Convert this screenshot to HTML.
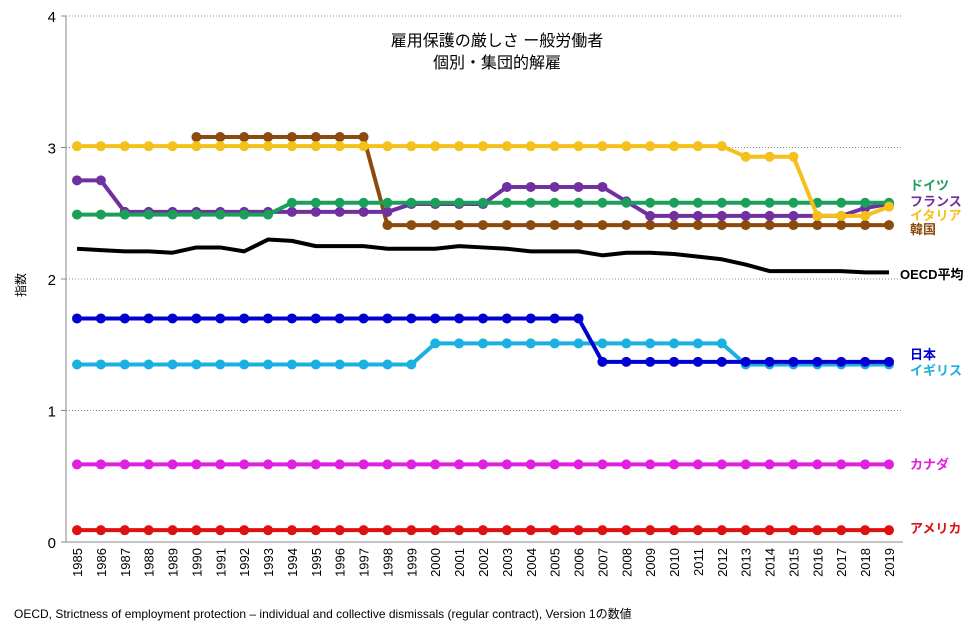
<!DOCTYPE html>
<html><head><meta charset="utf-8"><style>
body{margin:0;background:#fff;font-family:"Liberation Sans","Noto Sans CJK JP",sans-serif}
</style></head><body>
<svg id="chart" width="978" height="639" xmlns="http://www.w3.org/2000/svg" font-family="Liberation Sans, Noto Sans CJK JP, sans-serif"></svg>
<script>
const years=[];for(let y=1985;y<=2019;y++)years.push(y);
const yTicks=[0,1,2,3,4];
const italy=[3.01,3.01,3.01,3.01,3.01,3.01,3.01,3.01,3.01,3.01,3.01,3.01,3.01,3.01,3.01,3.01,3.01,3.01,3.01,3.01,3.01,3.01,3.01,3.01,3.01,3.01,3.01,3.01,2.93,2.93,2.93,2.48,2.48,2.48,2.55];
const france=[2.75,2.75,2.51,2.51,2.51,2.51,2.51,2.51,2.51,2.51,2.51,2.51,2.51,2.51,2.57,2.57,2.57,2.57,2.70,2.70,2.70,2.70,2.70,2.59,2.48,2.48,2.48,2.48,2.48,2.48,2.48,2.48,2.48,2.54,2.57];
const germany=[2.49,2.49,2.49,2.49,2.49,2.49,2.49,2.49,2.49,2.58,2.58,2.58,2.58,2.58,2.58,2.58,2.58,2.58,2.58,2.58,2.58,2.58,2.58,2.58,2.58,2.58,2.58,2.58,2.58,2.58,2.58,2.58,2.58,2.58,2.58];
const korea=[null,null,null,null,null,3.08,3.08,3.08,3.08,3.08,3.08,3.08,3.08,2.41,2.41,2.41,2.41,2.41,2.41,2.41,2.41,2.41,2.41,2.41,2.41,2.41,2.41,2.41,2.41,2.41,2.41,2.41,2.41,2.41,2.41];
const oecd=[2.23,2.22,2.21,2.21,2.20,2.24,2.24,2.21,2.30,2.29,2.25,2.25,2.25,2.23,2.23,2.23,2.25,2.24,2.23,2.21,2.21,2.21,2.18,2.20,2.20,2.19,2.17,2.15,2.11,2.06,2.06,2.06,2.06,2.05,2.05];
const japan=[1.70,1.70,1.70,1.70,1.70,1.70,1.70,1.70,1.70,1.70,1.70,1.70,1.70,1.70,1.70,1.70,1.70,1.70,1.70,1.70,1.70,1.70,1.37,1.37,1.37,1.37,1.37,1.37,1.37,1.37,1.37,1.37,1.37,1.37,1.37];
const uk=[1.35,1.35,1.35,1.35,1.35,1.35,1.35,1.35,1.35,1.35,1.35,1.35,1.35,1.35,1.35,1.51,1.51,1.51,1.51,1.51,1.51,1.51,1.51,1.51,1.51,1.51,1.51,1.51,1.35,1.35,1.35,1.35,1.35,1.35,1.35];
const canada=years.map(()=>0.59);
const usa=years.map(()=>0.09);
const NS="http://www.w3.org/2000/svg";
const svg=document.getElementById('chart');
const X0=77,X1=889,Y0=542,Y4=16;
const xs=i=>X0+(X1-X0)*i/(years.length-1);
const ys=v=>Y0-(Y0-Y4)*v/4;
function mk(tag,attrs,parent){const e=document.createElementNS(NS,tag);for(const k in attrs)e.setAttribute(k,attrs[k]);(parent||svg).appendChild(e);return e;}
yTicks.forEach(t=>{
 if(t>0){const g=mk('line',{x1:66,x2:903,y1:ys(t),y2:ys(t),stroke:'#888','stroke-dasharray':'1,2','stroke-width':1});
 
 }
 const tk=mk('line',{x1:61,x2:66,y1:ys(t),y2:ys(t),stroke:'#888'});
 
 
 const l=mk('text',{x:56,y:ys(t)+6,'text-anchor':'end','font-size':15,fill:'#000'});l.textContent=t;
 
 
});
const ax=mk('line',{x1:66,x2:66,y1:16,y2:542,stroke:'#888'});


const bx=mk('line',{x1:66,x2:903,y1:542,y2:542,stroke:'#888'});


years.forEach((yr,i)=>{
 const t=mk('text',{transform:`translate(${xs(i)+5},548) rotate(-90)`,'text-anchor':'end','font-size':13,fill:'#000'});t.textContent=yr;
 
 
});
const series=[
 ['oecd',oecd,'#000',false],
 ['usa',usa,'#e01010',true],['canada',canada,'#e020e0',true],
 ['uk',uk,'#1ab0e0',true],['japan',japan,'#0000d0',true],
 ['korea',korea,'#8b4a0e',true],['france',france,'#7030a0',true],
 ['germany',germany,'#1aa05a',true],['italy',italy,'#f5c019',true]];
series.forEach(([name,arr,col,dots])=>{
 let d='';arr.forEach((v,i)=>{if(v==null)return;d+=(d?'L':'M')+xs(i)+','+ys(v);});
 const p=mk('path',{d,fill:'none',stroke:col,'stroke-width':4,'stroke-linejoin':'round'});
 
 
 if(dots)arr.forEach((v,i)=>{if(v==null)return;
  const c=mk('circle',{cx:xs(i),cy:ys(v),r:5,fill:col});
  
  });
});
const labels=[['ドイツ',185,'#1aa05a'],['フランス',201,'#7030a0'],['イタリア',215,'#f5c019'],['韓国',229,'#8b4a0e'],['OECD平均',274,'#000'],['日本',354,'#0000d0'],['イギリス',370,'#1ab0e0'],['カナダ',464,'#e020e0'],['アメリカ',528,'#e01010']];
labels.forEach(([t,y,c])=>{const e=mk('text',{x:t==='OECD平均'?900:910,y:y+5,'font-size':13,'font-weight':'bold',fill:c});e.textContent=t;
 
 });
const t1=mk('text',{x:497,y:46,'text-anchor':'middle','font-size':16,fill:'#000'});t1.textContent='雇用保護の厳しさ ー般労働者';


const t2=mk('text',{x:497,y:68,'text-anchor':'middle','font-size':16,fill:'#000'});t2.textContent='個別・集団的解雇';


const yl=mk('text',{transform:'translate(25,285) rotate(-90)','text-anchor':'middle','font-size':12,fill:'#000'});yl.textContent='指数';


const ft=mk('text',{x:14,y:618,'font-size':12,fill:'#000'});ft.textContent='OECD, Strictness of employment protection – individual and collective dismissals (regular contract), Version 1の数値';


</script>
</body></html>
